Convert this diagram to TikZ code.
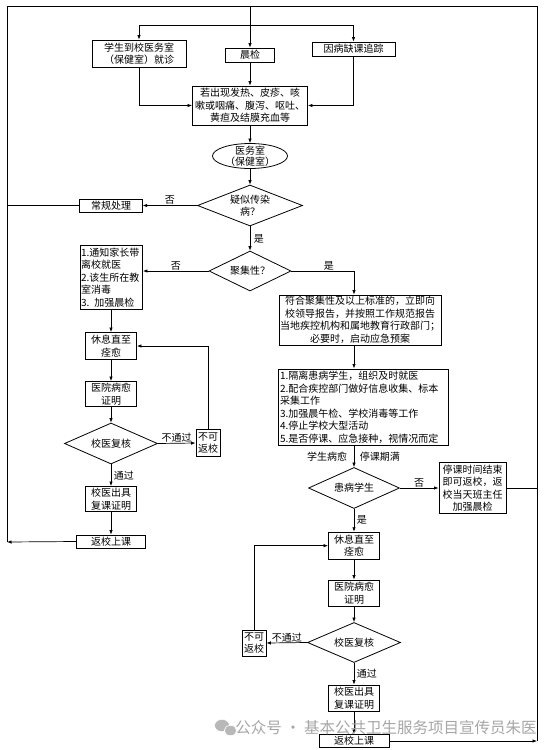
\documentclass[tikz,border=0pt]{standalone}
\usepackage{fontspec}
\setmainfont{Noto Sans CJK SC}
\usetikzlibrary{shapes.geometric,arrows.meta}
\tikzset{
  box/.style={draw, line width=0.9pt, inner sep=0pt, align=center, font=\fontsize{10}{12.5}\selectfont},
  lbox/.style={box, align=left},
  dia/.style={draw, diamond, line width=0.8pt, inner sep=0pt, align=center, font=\fontsize{10}{12.5}\selectfont},
  ell/.style={draw, ellipse, line width=0.8pt, inner xsep=-4pt, inner ysep=-4pt, align=center, font=\fontsize{10}{11}\selectfont},
  conn/.style={line width=0.7pt, -{Latex[length=4.5pt,width=3.5pt]}},
  plain/.style={line width=0.7pt},
  lbl/.style={font=\fontsize{10}{12}\selectfont, inner sep=0.5pt},
  wmark/.style={font=\fontsize{15.5}{16}\selectfont, text=black!35, inner sep=0pt}
}
\begin{document}
\begin{tikzpicture}[x=1pt,y=-1pt]
\useasboundingbox (0,0) rectangle (553,750);

% outer frame corners
\coordinate (TL) at (7,6);
\coordinate (TR) at (537,6);
\coordinate (BR) at (537,741);
\coordinate (BL) at (7,542);
\coordinate (DY) at (0,25);

% top part
\node[box, minimum width=94, minimum height=27] (n1) at (139,53.5) {学生到校医务室\\（保健室）就诊};
\node[box, minimum width=49, minimum height=14] (n2) at (250,55) {晨检};
\node[box, minimum width=83, minimum height=14] (n3) at (353.5,49) {因病缺课追踪};
\node[box, minimum width=115, minimum height=39] (n4) at (250,105.5) {若出现发热、皮疹、咳\\嗽或咽痛、腹泻、呕吐、\\黄疸及结膜充血等};
\node[ell, minimum width=75, minimum height=25] (e1) at (250,156) {医务室\\（保健室）};
\node[dia, minimum width=105, minimum height=41, aspect=2.5] (d1) at (250,205.5) {疑似传染\\病？};
\node[box, minimum width=62.5, minimum height=13] (n5) at (111,205.5) {常规处理};
\node[dia, minimum width=82, minimum height=40, aspect=2] (d2) at (250,271) {聚集性？};

% left column
\node[lbox, text width=61, inner xsep=0.5pt, minimum height=63.6] (n6) at (111.5,277.5) {1.通知家长带\\离校就医\\2.该生所在教\\室消毒\\3. 加强晨检};
\node[box, minimum width=51, minimum height=27] (n7) at (111,346) {休息直至\\痊愈};
\node[box, minimum width=51, minimum height=25] (n8) at (111,394) {医院病愈\\证明};
\node[dia, minimum width=93, minimum height=41, aspect=2.3] (d3) at (111,443.5) {校医复核};
\node[box, minimum width=24, minimum height=27] (n9) at (208,443) {不可\\返校};
\node[box, minimum width=51, minimum height=25] (n10) at (111,499) {校医出具\\复课证明};
\node[box, minimum width=69, minimum height=13] (n11) at (111,541.5) {返校上课};

% right column
\node[box, minimum width=162, minimum height=50] (n12) at (360,320) {符合聚集性及以上标准的，立即向\\校领导报告，并按照工作规范报告\\当地疾控机构和属地教育行政部门；\\必要时，启动应急预案};
\node[lbox, text width=166, inner xsep=2pt, minimum height=76.7] (n13) at (363,407.3) {1.隔离患病学生，组织及时就医\\2.配合疾控部门做好信息收集、标本\\采集工作\\3.加强晨午检、学校消毒等工作\\4.停止学校大型活动\\5.是否停课、应急接种，视情况而定};
\node[dia, minimum width=91, minimum height=41, aspect=2.3] (d4) at (354,488) {患病学生};
\node[box, minimum width=67, minimum height=51] (n14) at (472.5,488.3) {停课时间结束\\即可返校，返\\校当天班主任\\加强晨检};
\node[box, minimum width=51, minimum height=27] (n15) at (354,545.7) {休息直至\\痊愈};
\node[box, minimum width=51, minimum height=26] (n16) at (354,593) {医院病愈\\证明};
\node[dia, minimum width=93, minimum height=40, aspect=2.3] (d5) at (354,642.5) {校医复核};
\node[box, minimum width=24, minimum height=26] (n17) at (254,643) {不可\\返校};
\node[box, minimum width=51, minimum height=26] (n18) at (354,698) {校医出具\\复课证明};
\node[box, minimum width=70, minimum height=13] (n19) at (354,741) {返校上课};

% outer loop
\draw[plain] (BR) -- (TR) -- (TL) -- (BL);
\draw[conn] (n11.west) -- (BL);
\draw[conn] (n19.east) -- (BR);
\draw[conn] (n2.north |- TL) -- (n2.north);

% distribution at top
\draw[plain] (n1.north |- DY) -- (n3.north |- DY);
\draw[conn] (n1.north |- DY) -- (n1.north);
\draw[conn] (n3.north |- DY) -- (n3.north);
\draw[conn] (n1.south) |- (n4.west);
\draw[conn] (n3.south) |- (n4.east);
\draw[conn] (n2.south) -- (n4.north);
\draw[conn] (n4.south) -- (e1.north);
\draw[conn] (e1.south) -- (d1.north);
\draw[conn] (d1.west) -- node (l1) [lbl, above] {否} (n5.east);
\draw[plain] (n5.west) -- (n5.west -| TL);
\draw[conn] (d1.south) -- node (l2) [lbl, right=3pt] {是} (d2.north);
\draw[conn] (d2.west) -- node (l3) [lbl, above] {否} (d2.west -| n6.east);
\draw[conn] (d2.east) -| node (l4) [lbl, above, pos=0.3] {是} (n12.north -| d4.north);

% left chain
\draw[conn] (n6.south -| n7.north) -- (n7.north);
\draw[conn] (n7.south) -- (n8.north);
\draw[conn] (n8.south) -- (d3.north);
\draw[conn] (d3.east) -- node (l5) [lbl, above] {不通过} (n9.west);
\draw[conn] (n9.north) |- (n7.east);
\draw[conn] (d3.south) -- node (l6) [lbl, right=2pt] {通过} (n10.north);
\draw[conn] (n10.south) -- (n11.north);

% right chain
\draw[conn] (n12.south -| d4.north) -- (n13.north -| d4.north);
\draw[conn] (n13.south -| d4.north) -- node (l7) [lbl, left=6pt] {学生病愈} node (l8) [lbl, right=5pt] {停课期满} (d4.north);
\draw[conn] (d4.east) -- node (l9) [lbl, above] {否} (d4.east -| n14.west);
\draw[plain] (n14.east) -- (n14.east -| TR);
\draw[conn] (d4.south) -- node (l10) [lbl, right=2pt] {是} (n15.north);
\draw[conn] (n15.south) -- (n16.north);
\draw[conn] (n16.south) -- (d5.north);
\draw[conn] (d5.west) -- node (l11) [lbl, above] {不通过} (n17.east);
\draw[conn] (n17.north) |- (n15.west);
\draw[conn] (d5.south) -- node (l12) [lbl, right=2pt] {通过} (n18.north);
\draw[conn] (n18.south) -- (n19.north);

% watermark
\fill[black!28, draw=white, line width=0.6pt] (222,725.5) ellipse (7.5 and 6.2);
\fill[black!28, draw=white, line width=0.6pt] (230.5,730.5) ellipse (6.2 and 5.2);
\node[wmark] (wm) at (386,727.5) {公众号 · 基本公共卫生服务项目宣传员朱医};
\end{tikzpicture}
\end{document}
